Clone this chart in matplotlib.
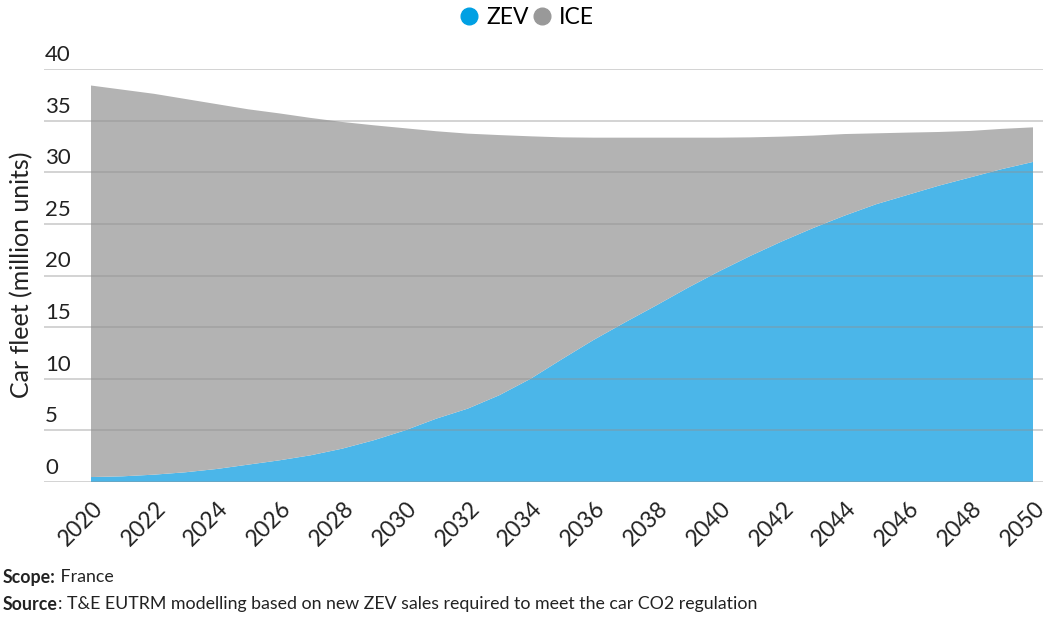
import matplotlib
matplotlib.use("Agg")
import matplotlib.pyplot as plt
import matplotlib.transforms as mtransforms
from matplotlib.lines import Line2D

plt.rcParams['font.family'] = ['Lato', 'DejaVu Sans']

years = list(range(2020, 2051))
zev = [0.48, 0.55, 0.71, 0.94, 1.26, 1.68, 2.1, 2.59, 3.23, 4.04, 5.0,
       6.14, 7.11, 8.4, 10.0, 11.9, 13.75, 15.45, 17.1, 18.8, 20.4,
       21.9, 23.3, 24.6, 25.8, 26.9, 27.8, 28.7, 29.5, 30.3, 31.0]
ice = [37.92, 37.45, 36.89, 36.16, 35.34, 34.42, 33.6, 32.67, 31.64, 30.51, 29.26,
       27.83, 26.63, 25.2, 23.48, 21.48, 19.6, 17.9, 16.25, 14.55, 12.95,
       11.48, 10.15, 8.95, 7.9, 6.87, 6.04, 5.2, 4.5, 3.9, 3.35]
series_names = ['ZEV', 'ICE']
area_colors = ['#4bb6e9', '#b3b3b3']
legend_colors = ['#00a0e3', '#999999']
xtick_years = list(range(2020, 2051, 2))
yticks = [0, 5, 10, 15, 20, 25, 30, 35, 40]

W, H = 1047, 617
fig = plt.figure(figsize=(W / 100, H / 100), dpi=100)
ax = fig.add_axes([44 / W, 1 - 482 / H, (1043 - 44) / W, (482 - 69) / H])

ax.stackplot(years, zev, ice, colors=area_colors, linewidth=0, zorder=1)

ax.set_xlim(2020 - 47 / 31.4, 2050 + 10 / 31.4)
ax.set_ylim(0, 40)
for s in ax.spines.values():
    s.set_visible(False)

ax.set_yticks(yticks)
ax.yaxis.grid(True, color='#909090', alpha=0.46, linewidth=1.2, zorder=3)
ax.set_axisbelow(False)
ax.tick_params(axis='y', length=0, labelsize=16, pad=0, labelcolor='#222222')
for lbl in ax.get_yticklabels():
    lbl.set_horizontalalignment('left')
    lbl.set_verticalalignment('bottom')
    lbl.set_transform(lbl.get_transform() + mtransforms.ScaledTranslation(0.01, 0.04, fig.dpi_scale_trans))

ax.set_xticks(xtick_years)
ax.set_xticklabels([str(y) for y in xtick_years], rotation=45, ha='right',
                   rotation_mode='anchor', fontsize=16.5, color='#222222')
ax.tick_params(axis='x', length=0, pad=11)
for lbl in ax.get_xticklabels():
    lbl.set_transform(lbl.get_transform() + mtransforms.ScaledTranslation(0.01, 0.0, fig.dpi_scale_trans))

fig.text(22 / W, 1 - 275 / H, 'Car fleet (million units)', rotation=90,
         ha='center', va='center', fontsize=18, color='#222222')

handles = [Line2D([], [], marker='o', linestyle='none', markersize=12,
                  markerfacecolor=c, markeredgecolor=c) for c in legend_colors]
fig.legend(handles, series_names, loc='center', bbox_to_anchor=(527 / W, 1 - 18 / H),
           ncol=2, frameon=False, fontsize=16.5, handletextpad=0.35, columnspacing=0.15,
           handlelength=0.8)

fig.canvas.draw()
renderer = fig.canvas.get_renderer()

def mixed(x, y, bold, rest):
    t = fig.text(x / W, 1 - y / H, bold, fontsize=12.8, fontweight='bold',
                 ha='left', va='center', color='#222222')
    bb = t.get_window_extent(renderer)
    fig.text(bb.x1 / W, 1 - y / H, rest, fontsize=12.8, ha='left', va='center', color='#222222')

mixed(3, 577, 'Scope:', ' France')
mixed(3, 604, 'Source', ': T&E EUTRM modelling based on new ZEV sales required to meet the car CO2 regulation')

fig.savefig('out.png', dpi=100)
